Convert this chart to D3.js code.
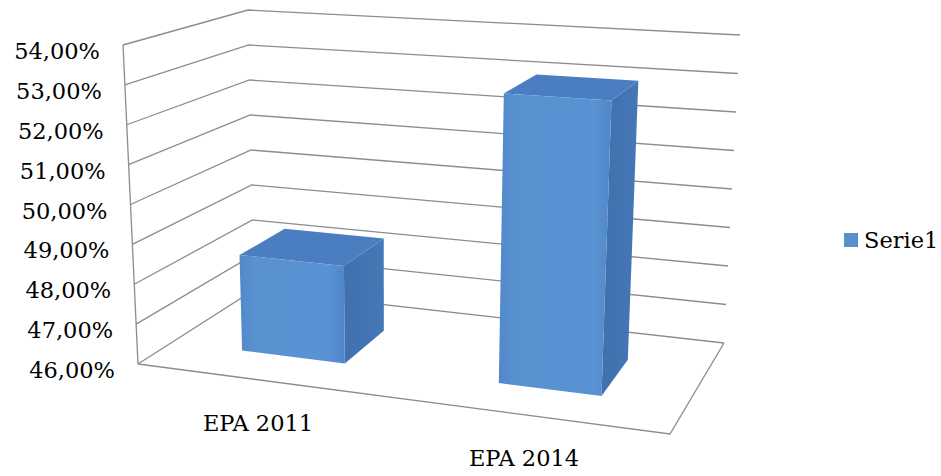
<!DOCTYPE html>
<html>
<head>
<meta charset="utf-8">
<script src="https://cdn.jsdelivr.net/npm/d3@7/dist/d3.min.js"></script>
<style>
  html, body { margin: 0; padding: 0; background: #fff; }
  svg { display: block; }
  text { font-family: "DejaVu Serif", serif; fill: #000; }
</style>
</head>
<body>
<svg id="chart" width="941" height="476"></svg>
<script>
// ---- data ----
const categories = ["EPA 2011", "EPA 2014"];
const values = [48.45, 53.05];
const tickValues = [46, 47, 48, 49, 50, 51, 52, 53, 54];
const tickLabels = ["46,00%", "47,00%", "48,00%", "49,00%", "50,00%", "51,00%", "52,00%", "53,00%", "54,00%"];
const seriesName = "Serie1";

// ---- 3D box projection (trilinear between projected corners) ----
// u: category axis (0 left .. 1 right), v: value (0 bottom .. 1 top), w: depth (0 front .. 1 back)
const corners = {
  "000": [138, 364], "010": [123, 45],
  "001": [254, 290], "011": [248, 10],
  "100": [670, 434], "110": [686, 79],
  "101": [724, 343], "111": [740, 35]
};
function lerp(a, b, t) { return [a[0] + (b[0] - a[0]) * t, a[1] + (b[1] - a[1]) * t]; }
function P(u, v, w) {
  const c = k => corners[k];
  const b0 = lerp(lerp(c("000"), c("100"), u), lerp(c("001"), c("101"), u), w);
  const t0 = lerp(lerp(c("010"), c("110"), u), lerp(c("011"), c("111"), u), w);
  return lerp(b0, t0, v);
}

const svg = d3.select("#chart");
const x = d3.scaleBand().domain(categories).range([-0.015, 0.985]).paddingInner(0.6).paddingOuter(0.3);
const y = d3.scaleLinear().domain([46, 54]).range([0, 1]);
const depth = [0.3, 0.71];
const fontSize = 22.5;

const line = d3.line();
const gridColor = "#8c8c8c";

// gridlines on left and back walls
const grid = svg.append("g").attr("fill", "none").attr("stroke", gridColor).attr("stroke-width", 1.3);
tickValues.forEach(t => {
  const v = y(t);
  grid.append("path").attr("d", line([P(0, v, 0), P(0, v, 1), P(1, v, 1)]));
});
// floor outline and value axis
grid.append("path").attr("d", line([P(0, 0, 0), P(1, 0, 0), P(1, 0, 1)]));
grid.append("path").attr("d", line([P(0, 0, 0), P(0, 1, 0)]));

// tick labels
svg.append("g").selectAll("text").data(tickValues).join("text")
  .attr("x", d => P(0, y(d), 0)[0] - 23)
  .attr("y", d => P(0, y(d), 0)[1] + 6)
  .attr("dy", "0.36em")
  .attr("text-anchor", "end")
  .attr("font-size", fontSize)
  .text((d, i) => tickLabels[i]);

// gradients
const defs = svg.append("defs");
const gFront = defs.append("linearGradient").attr("id", "gFront").attr("x1", 0).attr("x2", 1).attr("y1", 0).attr("y2", 0);
gFront.append("stop").attr("offset", 0).attr("stop-color", "#5189ca");
gFront.append("stop").attr("offset", 0.15).attr("stop-color", "#5890d0");
gFront.append("stop").attr("offset", 0.85).attr("stop-color", "#5a93d3");
gFront.append("stop").attr("offset", 1).attr("stop-color", "#4f86c7");
const gRight = defs.append("linearGradient").attr("id", "gRight").attr("x1", 0).attr("x2", 1).attr("y1", 0).attr("y2", 0);
gRight.append("stop").attr("offset", 0).attr("stop-color", "#4070ae");
gRight.append("stop").attr("offset", 1).attr("stop-color", "#4677b6");

// bars
const bars = svg.append("g");
categories.forEach((cat, i) => {
  const u0 = x(cat), u1 = x(cat) + x.bandwidth();
  const v0 = 0, v1 = y(values[i]);
  const [w0, w1] = depth;
  const poly = pts => line(pts) + "Z";
  const g = bars.append("g");
  g.append("path").attr("d", poly([P(u1, v0, w0), P(u1, v0, w1), P(u1, v1, w1), P(u1, v1, w0)]))
    .attr("fill", "url(#gRight)");
  g.append("path").attr("d", poly([P(u0, v1, w0), P(u1, v1, w0), P(u1, v1, w1), P(u0, v1, w1)]))
    .attr("fill", "#4b7ec0");
  g.append("path").attr("d", poly([P(u0, v0, w0), P(u1, v0, w0), P(u1, v1, w0), P(u0, v1, w0)]))
    .attr("fill", "url(#gFront)");
});

// category labels
svg.append("g").selectAll("text").data(categories).join("text")
  .attr("x", d => P(x(d) + x.bandwidth() / 2, 0, 0)[0] - 5)
  .attr("y", d => P(x(d) + x.bandwidth() / 2, 0, 0)[1] + 42)
  .attr("dy", "0.36em")
  .attr("text-anchor", "middle")
  .attr("font-size", fontSize)
  .text(d => d);

// legend
const lg = svg.append("g").attr("transform", "translate(844,233)");
lg.append("rect").attr("width", 14).attr("height", 14).attr("fill", "#5b8fca");
lg.append("text").attr("x", 20).attr("y", 7).attr("dy", "0.36em").attr("font-size", fontSize).text(seriesName);
</script>
</body>
</html>
